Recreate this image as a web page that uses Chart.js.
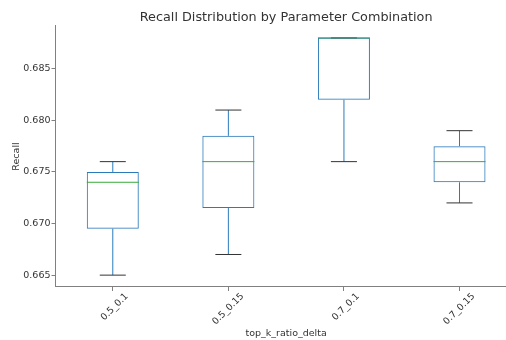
<!DOCTYPE html>
<html>
<head>
<meta charset="utf-8">
<script src="https://cdn.jsdelivr.net/npm/chart.js@4/dist/chart.umd.min.js"></script>
<style>
  html, body { margin: 0; padding: 0; background: #fff; overflow: hidden; }
  #wrap { position: relative; width: 520px; height: 340px; }
</style>
</head>
<body>
<div id="wrap"><canvas id="c"></canvas></div>
<script>
// ---- data ----
const categories  = ['0.5_0.1', '0.5_0.15', '0.7_0.1', '0.7_0.15'];
const whiskerLow  = [0.665, 0.667, 0.676, 0.672];
const q1          = [0.6695, 0.6715, 0.682, 0.674];
const median      = [0.674, 0.676, 0.688, 0.676];
const q3          = [0.675, 0.6785, 0.688, 0.6775];
const whiskerHigh = [0.676, 0.681, 0.688, 0.679];
const yTicks      = [0.665, 0.670, 0.675, 0.680, 0.685];

const FONT = "'DejaVu Sans', sans-serif";
const BOX = '#2b7bba', MED = '#3aaa3a', CAP = '#333333', AXIS = '#808080';

const boxPlugin = {
  id: 'boxWhiskers',
  afterDatasetsDraw(chart) {
    const ctx = chart.ctx;
    const xs = chart.scales.x, ys = chart.scales.y;
    const meta = chart.getDatasetMeta(0);
    ctx.save();
    ctx.lineWidth = 1;
    categories.forEach((c, i) => {
      const bar = meta.data[i];
      const x = xs.getPixelForValue(i);
      const hw = bar.width / 2;
      const cw = hw / 2;
      const yLo = ys.getPixelForValue(whiskerLow[i]);
      const yHi = ys.getPixelForValue(whiskerHigh[i]);
      const yQ1 = ys.getPixelForValue(q1[i]);
      const yQ3 = ys.getPixelForValue(q3[i]);
      const yMd = ys.getPixelForValue(median[i]);
      // whiskers
      ctx.strokeStyle = BOX;
      ctx.beginPath();
      ctx.moveTo(x, yQ1); ctx.lineTo(x, yLo);
      ctx.moveTo(x, yQ3); ctx.lineTo(x, yHi);
      ctx.stroke();
      // caps
      ctx.strokeStyle = CAP;
      ctx.beginPath();
      ctx.moveTo(x - cw, yLo); ctx.lineTo(x + cw, yLo);
      ctx.moveTo(x - cw, yHi); ctx.lineTo(x + cw, yHi);
      ctx.stroke();
      // median
      ctx.strokeStyle = MED;
      ctx.beginPath();
      ctx.moveTo(x - hw, yMd); ctx.lineTo(x + hw, yMd);
      ctx.stroke();
    });
    ctx.restore();
  }
};

new Chart(document.getElementById('c'), {
  type: 'bar',
  data: {
    labels: categories,
    datasets: [{
      data: categories.map((c, i) => [q1[i], q3[i]]),
      backgroundColor: 'rgba(255,255,255,0)',
      borderColor: BOX,
      borderWidth: 1,
      borderSkipped: false,
      categoryPercentage: 1.0,
      barPercentage: 0.45
    }]
  },
  options: {
    responsive: true,
    maintainAspectRatio: false,
    animation: false,
    layout: { padding: { left: 0, right: 2.7, top: 0, bottom: 0 } },
    plugins: {
      legend: { display: false },
      tooltip: { enabled: false },
      title: {
        display: true,
        fullSize: false,
        text: 'Recall Distribution by Parameter Combination',
        color: '#333333',
        font: { family: FONT, size: 12.8, weight: 'normal' },
        padding: { top: 10, bottom: 0.6 }
      }
    },
    scales: {
      x: {
        type: 'category',
        offset: true,
        grid: { display: true, drawOnChartArea: false, drawTicks: true, tickLength: 4, color: AXIS, offset: false },
        border: { display: true, color: AXIS, width: 1 },
        ticks: {
          color: '#333333',
          font: { family: FONT, size: 9.3 },
          minRotation: 45, maxRotation: 45,
          labelOffset: 14,
          padding: 0
        },
        title: {
          display: true,
          text: 'top_k_ratio_delta',
          color: '#333333',
          font: { family: FONT, size: 9.5 },
          padding: { top: 0, bottom: 1 }
        },
        afterFit(scale) { scale.height = 53; }
      },
      y: {
        min: 0.66385,
        max: 0.68915,
        grid: { display: true, drawOnChartArea: false, drawTicks: true, tickLength: 3.5, color: AXIS },
        border: { display: true, color: AXIS, width: 1 },
        afterBuildTicks(axis) { axis.ticks = yTicks.map(v => ({ value: v })); },
        ticks: {
          color: '#333333',
          font: { family: FONT, size: 9.5 },
          padding: 1,
          callback: v => Number(v).toFixed(3)
        },
        title: {
          display: true,
          text: 'Recall',
          color: '#333333',
          font: { family: FONT, size: 9.5 },
          padding: { top: 10.5, bottom: 0 }
        },
        afterFit(scale) { scale.width = 55; }
      }
    }
  },
  plugins: [boxPlugin]
});
</script>
</body>
</html>
